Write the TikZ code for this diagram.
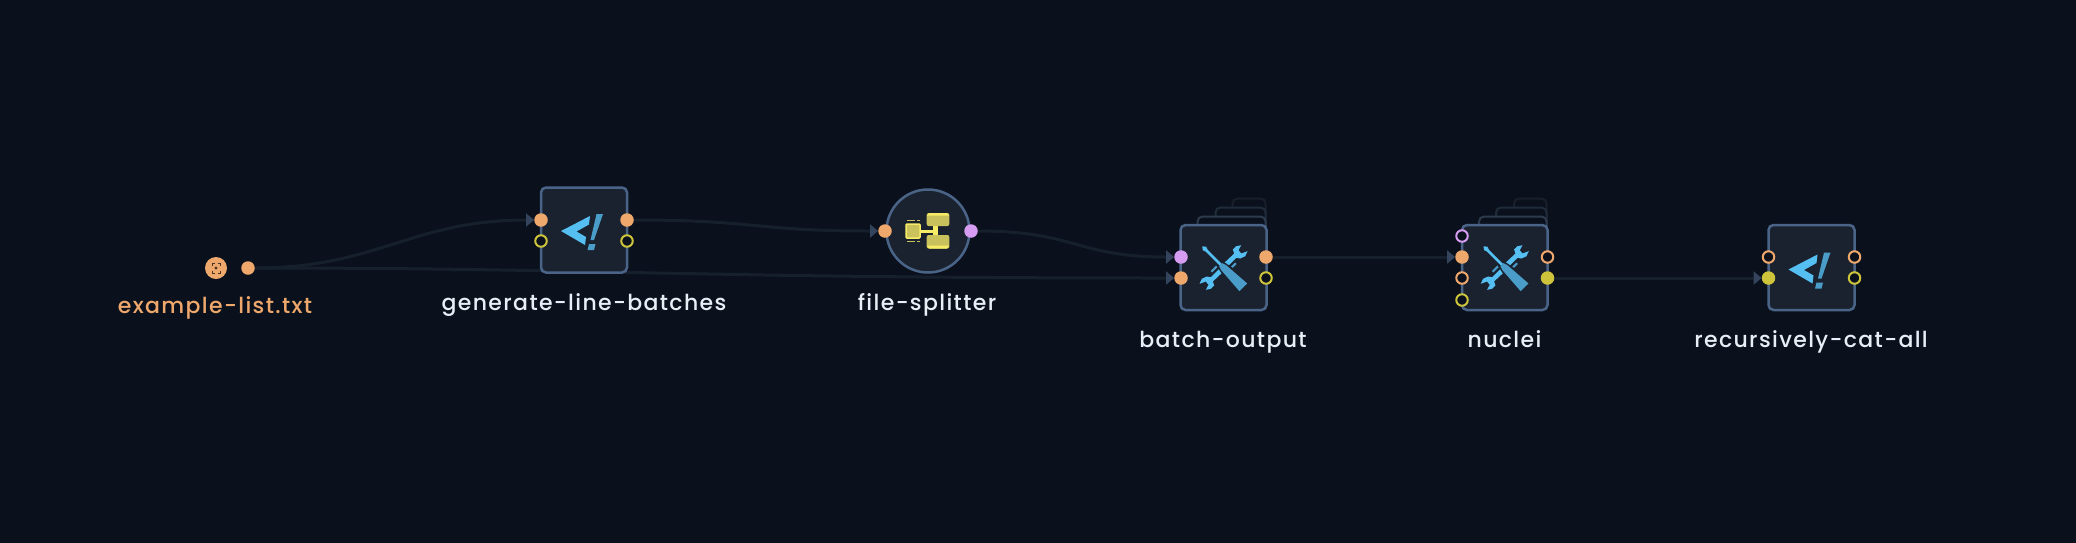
\documentclass[tikz,border=0pt]{standalone}
\usepackage{fontspec}
\setmainfont[LetterSpace=6.2,UprightFont={* Medium}]{Poppins}
\usetikzlibrary{arrows.meta}
\definecolor{bgdark}{HTML}{0A111C}
\definecolor{boxfill}{HTML}{1A2230}
\definecolor{boxline}{HTML}{4A6488}
\definecolor{edgeline}{HTML}{161F2C}
\definecolor{edgetip}{HTML}{33445C}
\definecolor{sheetA}{HTML}{2C3A4D}
\definecolor{sheetB}{HTML}{202B3A}
\definecolor{sheetC}{HTML}{18202C}
\definecolor{O}{HTML}{EFA86C}
\definecolor{Y}{HTML}{CDC43C}
\definecolor{P}{HTML}{D69CF2}
\definecolor{iconblue}{HTML}{56BFF2}
\definecolor{icondark}{HTML}{4A9DC8}
\definecolor{splitfill}{HTML}{C9C15C}
\definecolor{splitlight}{HTML}{F6EC66}
\definecolor{scandark}{HTML}{4A3524}
\definecolor{labeltext}{HTML}{E8EEF5}
\pgfdeclarelayer{edgelayer}
\pgfsetlayers{edgelayer,main}
\tikzset{
  stepbox/.style={draw=boxline,fill=boxfill,line width=2.5pt,rounded corners=5pt,minimum height=85pt,inner sep=0pt},
  splitbox/.style={circle,draw=boxline,fill=boxfill,line width=2.5pt,minimum size=83pt,inner sep=0pt},
  portfull/.style={circle,fill=#1,minimum size=13.5pt,inner sep=0pt},
  portopen/.style={circle,draw=#1,fill=bgdark,line width=2pt,minimum size=11.5pt,inner sep=0pt},
  steplabel/.style={anchor=base,text=labeltext,font=\fontsize{22}{26}\selectfont},
  flow/.style={draw=edgeline,line width=3pt},
  flowtip/.style={flow,-{Triangle[length=8pt,width=13pt,color=edgetip]}}
}
\newcommand{\drawsheets}[4]{
    \foreach \dx/\dy/\col in {#4}{
      \draw[\col,fill=bgdark,line width=2pt,rounded corners=5pt] (#1-#3/2+\dx,#2-42-\dy) rectangle (#1+#3/2-1,#2+20);
    }
}
\newcommand{\drawcode}[2]{
  \begin{scope}[shift={(#1,#2)}]
    \fill[iconblue] (-23,1)--(6,-14)--(5,-5.5)--(-7.5,1.5)--(2,7)--(1,15)--cycle;
    \fill[icondark] (12.5,-16)--(19,-16)--(10,10)--(6.5,10)--cycle;
    \fill[icondark] (5,14)--(11.5,14)--(10,20)--(3.5,20)--cycle;
  \end{scope}
}
\newcommand{\drawtools}[2]{
  \foreach \s in {1,-1}{
    \begin{scope}[shift={(#1,#2)},scale=\s]
      \fill[iconblue] (-1,-3)--(10.7,-14)--(9.3,-18)--(12.7,-21.3)--(17.7,-22.3)--(15,-17.3)--(17.7,-14)--(24,-16.3)--(21.7,-11.3)--(16.7,-9)--(12.7,-9.7)--(2.5,.5)--cycle;
      \fill[icondark] (7,2.5)--(13,-3.5)--(11.5,-5)--(5.5,1)--cycle;
    \end{scope}
  }
  \begin{scope}[shift={(#1,#2)},x={(.707pt,.707pt)},y={(-.707pt,.707pt)}]
    \fill[boxfill] (-3.4,8)--(3.4,8)--(6.5,-8)--(-6.5,-8)--cycle;
    \fill[iconblue] (-1.4,4)--(1.4,4)--(1.4,24)--(2.4,27)--(0,30)--(-2.4,27)--(-1.4,24)--cycle;
    \fill[icondark] (-2.2,4)--(2.2,4)--(3.5,0)--(5.5,-28)--(-5.5,-28)--(-3.5,0)--cycle;
  \end{scope}
}
\newcommand{\drawsplit}[2]{
  \begin{scope}[shift={(#1,#2)}]
    \fill[splitlight] (-8,-1)--(10,-1)--(10,2.3)--(-8,2.3)--cycle;
    \fill[splitlight] (5.3,-7)--(10.3,-7)--(10.3,7)--(5.3,7)--cycle;
    \draw[splitlight,fill=splitfill,line width=1.5pt,rounded corners=1pt] (-22,-7)rectangle(-8,7);
    \fill[splitfill,rounded corners=2pt] (-1.3,-18) rectangle (21.3,-5);
    \fill[splitfill,rounded corners=2pt] (-1.3,4) rectangle (21.3,17.5);
    \fill[splitlight] (1,-18)--(19,-18)--(21,-15.5)--(-1,-15.5)--cycle;
    \fill[splitlight] (1,17.5)--(19,17.5)--(21,14.5)--(-1,14.5)--cycle;
    \foreach \y in {-10.5,10.5}{
      \draw[splitfill,line width=1.2pt] (-21,\y)--(-13,\y) (-11,\y)--(-8.5,\y);
    }
  \end{scope}
}
\newcommand{\drawscan}[2]{
  \begin{scope}[shift={(#1,#2)},scandark,line width=.8pt]
    \draw (-4,-2.5)--(-4,-5)--(-1.5,-5) (1.5,-5)--(4,-5)--(4,-2.5);
    \draw (-4,2.5)--(-4,5)--(-1.5,5) (1.5,5)--(4,5)--(4,2.5);
    \fill (0,0) circle (1.6);
  \end{scope}
}
\begin{document}
\begin{tikzpicture}[x=1pt,y=-1pt]
\useasboundingbox (0,0) rectangle (2076,542);
\begin{pgfonlayer}{edgelayer}
\fill[bgdark] (-5,-5) rectangle (2081,547);
\end{pgfonlayer}
\node[circle,fill=O,minimum size=22pt,inner sep=0pt] (listicon) at (216,268) {};
\drawscan{216}{268}
\node[portfull=O] (listout) at (248,268) {};
\node[steplabel,text=O] (listlabel) at (215,313) {example-list.txt};
\node[stepbox,minimum width=86pt] (linebatches) at (584,230) {};
\drawcode{584}{230}
\node[portfull=O] (linebatchesA) at (541,220) {};
\node[portopen=Y] (linebatchesB) at (541,241) {};
\node[portfull=O] (linebatchesC) at (627,220) {};
\node[portopen=Y] (linebatchesD) at (627,241) {};
\node[steplabel] (linebatcheslabel) at (584,310) {generate-line-batches};
\node[splitbox] (splitter) at (928,231) {};
\drawsplit{928}{231}
\node[portfull=O] (splitterA) at (885,231) {};
\node[portfull=P] (splitterB) at (971,231) {};
\node[steplabel] (splitterlabel) at (927,310) {file-splitter};
\drawsheets{1223.5}{267.5}{86}{52/27/sheetC,35/18/sheetB,17/9/sheetA}
\node[stepbox,minimum width=86pt] (batchoutput) at (1223.5,267.5) {};
\drawtools{1223.5}{267.5}
\node[portfull=P] (batchoutputA) at (1181,257) {};
\node[portfull=O] (batchoutputB) at (1181,278) {};
\node[portfull=O] (batchoutputC) at (1266,257) {};
\node[portopen=Y] (batchoutputD) at (1266,278) {};
\node[steplabel] (batchoutputlabel) at (1223,347) {batch-output};
\drawsheets{1504.75}{267.5}{85.5}{52/27/sheetC,34/18/sheetB,17/9/sheetA}
\node[stepbox,minimum width=85.5pt] (nuclei) at (1504.75,267.5) {};
\drawtools{1504.75}{267.5}
\node[portopen=P] (nucleiA) at (1462,236) {};
\node[portfull=O] (nucleiB) at (1462,257) {};
\node[portopen=O] (nucleiC) at (1462,278) {};
\node[portopen=Y] (nucleiD) at (1462,300) {};
\node[portopen=O] (nucleiE) at (1547.5,257) {};
\node[portfull=Y] (nucleiF) at (1547.5,278) {};
\node[steplabel] (nucleilabel) at (1504.5,347) {nuclei};
\node[stepbox,minimum width=86pt] (catall) at (1811.5,267.5) {};
\drawcode{1811.5}{268.5}
\node[portopen=O] (catallA) at (1768.5,257) {};
\node[portfull=Y] (catallB) at (1768.5,278) {};
\node[portopen=O] (catallC) at (1854.5,257) {};
\node[portopen=Y] (catallD) at (1854.5,278) {};
\node[steplabel] (catalllabel) at (1811,347) {recursively-cat-all};
\begin{pgfonlayer}{edgelayer}
\draw[flowtip] (listout) .. controls +(130,0) and +(-130,0) .. (linebatchesA);
\draw[flowtip] (listout) .. controls +(350,0) and +(-500,0) .. (batchoutputB);
\draw[flowtip] (linebatchesC) .. controls +(130,0) and +(-130,0) .. (splitterA);
\draw[flowtip] (splitterB) .. controls +(105,0) and +(-105,0) .. (batchoutputA);
\draw[flowtip] (batchoutputC) -- (nucleiB);
\draw[flowtip] (nucleiF) -- (catallB);
\end{pgfonlayer}
\end{tikzpicture}
\end{document}
